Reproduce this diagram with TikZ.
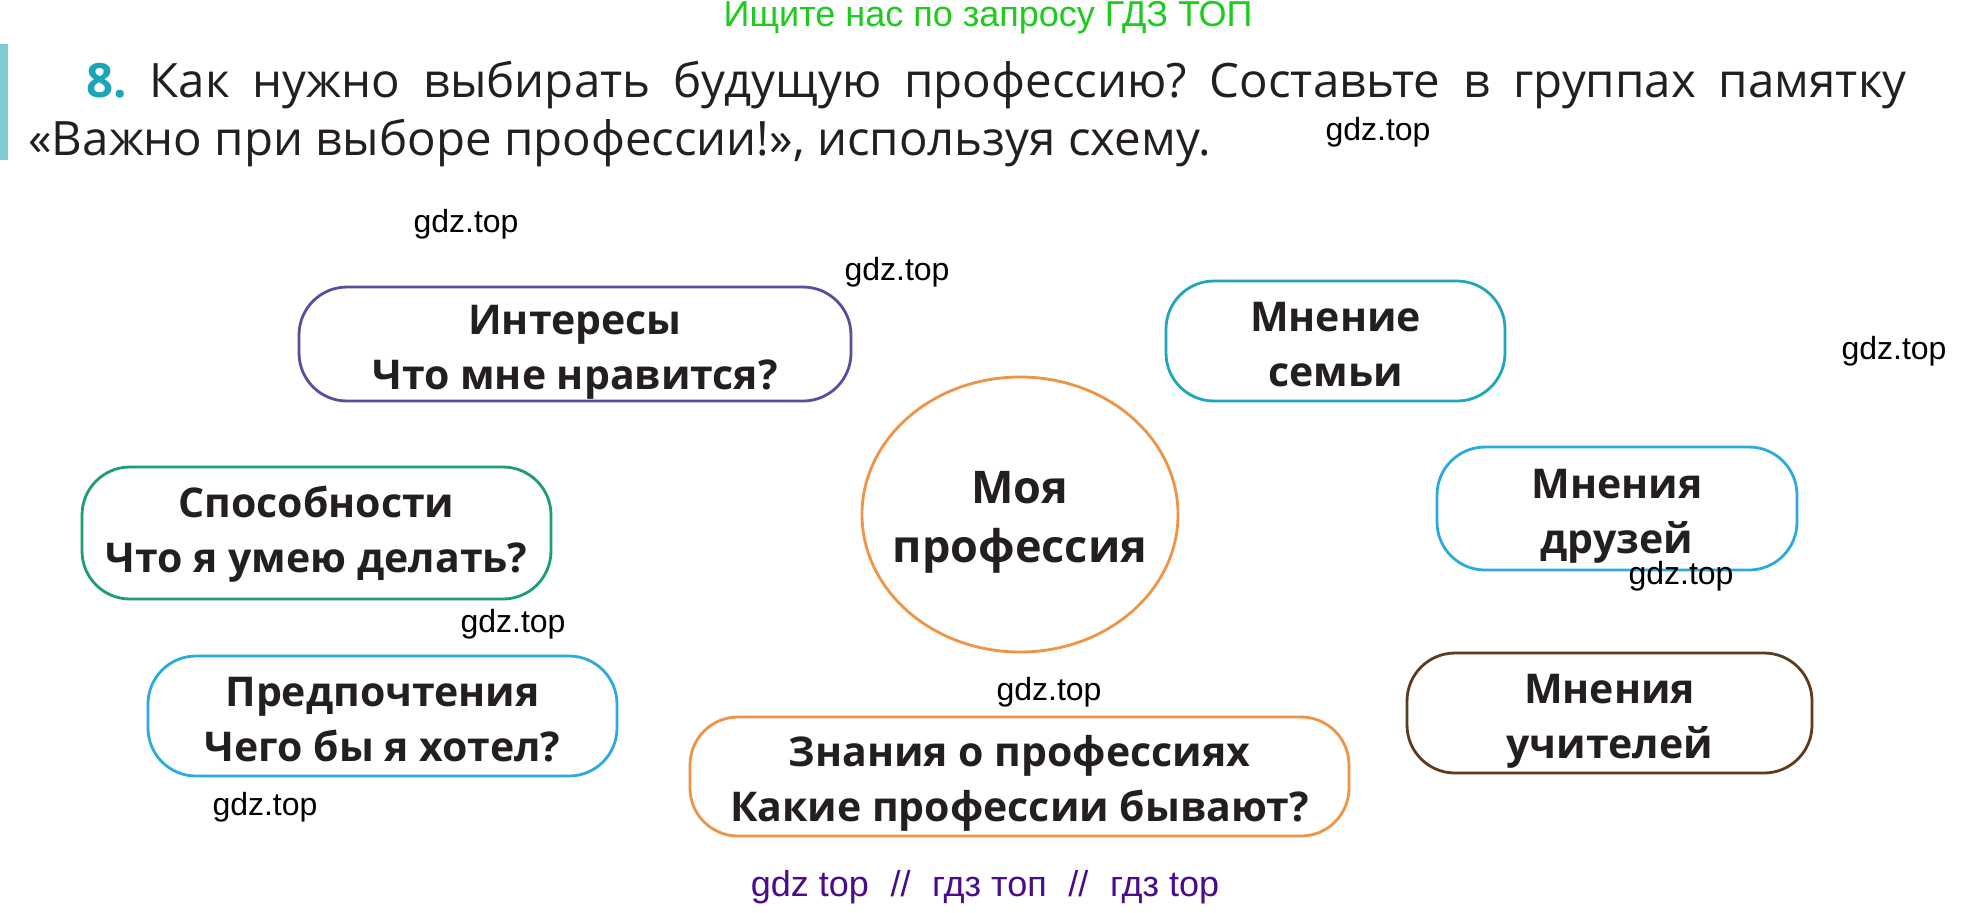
\documentclass[tikz,border=0pt]{standalone}
\usepackage{fontspec}
\setmainfont{Open Sans}
\newfontfamily\wmfont{Liberation Sans}
\usetikzlibrary{shapes.geometric}
\definecolor{ink}{HTML}{231F20}
\definecolor{cpurple}{HTML}{5F4B9B}
\definecolor{cgreen}{HTML}{1E9B77}
\definecolor{cblue}{HTML}{2BAAE0}
\definecolor{cteal}{HTML}{1FA6B8}
\definecolor{cbrown}{HTML}{5C3B1E}
\definecolor{corange}{HTML}{EE9444}
\definecolor{numteal}{HTML}{1AA6B7}
\definecolor{barcol}{HTML}{7FCCD0}
\definecolor{hdrgreen}{HTML}{1DCB1D}
\definecolor{wmpurple}{HTML}{4B0C8C}
\frenchspacing
\begin{document}
\begin{tikzpicture}[x=0.5pt,y=-0.5pt,
  bubble/.style={draw, line width=1.4pt, rounded corners=24pt, inner sep=0pt},
  btext/.style={align=center, font=\bfseries\fontsize{20.5}{27.5}\selectfont, text=ink, inner sep=0pt, anchor=base},
  wmark/.style={font=\wmfont\fontsize{16}{18}\selectfont, text=black, inner sep=0pt},
  titletext/.style={font=\fontsize{23.7}{28}\selectfont, text=ink, inner sep=0pt, anchor=base west}]
\useasboundingbox (0,0) rectangle (1973,912);
\fill[white] (0,0) rectangle (1973,912);

% header
\node[font=\wmfont\fontsize{18}{20}\selectfont, text=hdrgreen, inner sep=0pt] (hdr) at (988,18) {Ищите нас по запросу ГДЗ ТОП};

% left bar
\fill[barcol] (0,44) rectangle (8,160);

% title
\node[titletext] (t1) at (86,97) {\makebox[910pt][s]{\textcolor{numteal}{\bfseries 8.} Как нужно выбирать будущую профессию? Составьте в группах памятку}};
\node[titletext] (t2) at (28,155) {«Важно при выборе профессии!», используя схему.};

% bubbles
\node[bubble, draw=cpurple, minimum width=276pt, minimum height=57pt] (int) at (575,344) {};
\node[bubble, draw=cgreen, minimum width=234.5pt, minimum height=66pt] (spo) at (316.5,533) {};
\node[bubble, draw=cblue, minimum width=234.5pt, minimum height=60pt] (pre) at (382.5,716) {};
\node[bubble, draw=corange, minimum width=329.5pt, minimum height=59.5pt] (zna) at (1019.5,776.5) {};
\node[bubble, draw=cteal, minimum width=169.5pt, minimum height=60pt] (sem) at (1335.5,341) {};
\node[bubble, draw=cblue, minimum width=180pt, minimum height=61.5pt] (dru) at (1617,508.5) {};
\node[bubble, draw=cbrown, minimum width=202.5pt, minimum height=60pt] (uch) at (1609.5,713) {};
\node[ellipse, draw=corange, line width=1.4pt, minimum width=158pt, minimum height=137.5pt, inner sep=0pt] (moya) at (1020,514.5) {};

\node[btext] (int-t) at ([yshift=-22.6pt]int.center) {Интересы\\Что мне нравится?};
\node[btext] (spo-t) at ([yshift=-19.5pt]spo.center) {Способности\\Что я умею делать?};
\node[btext] (pre-t) at ([yshift=-22.6pt]pre.center) {Предпочтения\\Чего бы я хотел?};
\node[btext] (zna-t) at ([yshift=-22.6pt]zna.center) {Знания о профессиях\\Какие профессии бывают?};
\node[btext] (sem-t) at ([yshift=-22.6pt]sem.center) {Мнение\\семьи};
\node[btext] (dru-t) at ([yshift=-22.6pt]dru.center) {Мнения\\друзей};
\node[btext] (uch-t) at ([yshift=-22.6pt]uch.center) {Мнения\\учителей};
\node[btext, font=\bfseries\fontsize{22.5}{29.5}\selectfont] (moya-t) at ([yshift=-24pt]moya.center) {Моя\\профессия};

% watermarks
\node[wmark] (w1) at (1378,132) {gdz.top};
\node[wmark] (w2) at (466,224) {gdz.top};
\node[wmark] (w3) at (897,272) {gdz.top};
\node[wmark] (w4) at (1894,351) {gdz.top};
\node[wmark] (w5) at (513,624) {gdz.top};
\node[wmark] (w6) at (1681,576) {gdz.top};
\node[wmark] (w7) at (1049,692) {gdz.top};
\node[wmark] (w8) at (265,807) {gdz.top};

\node[font=\wmfont\fontsize{18}{20}\selectfont, text=wmpurple, inner sep=0pt] (bot) at (985,887)
  {gdz top\hspace{0.6em}//\hspace{0.6em}гдз топ\hspace{0.6em}//\hspace{0.6em}гдз top};
\end{tikzpicture}
\end{document}
